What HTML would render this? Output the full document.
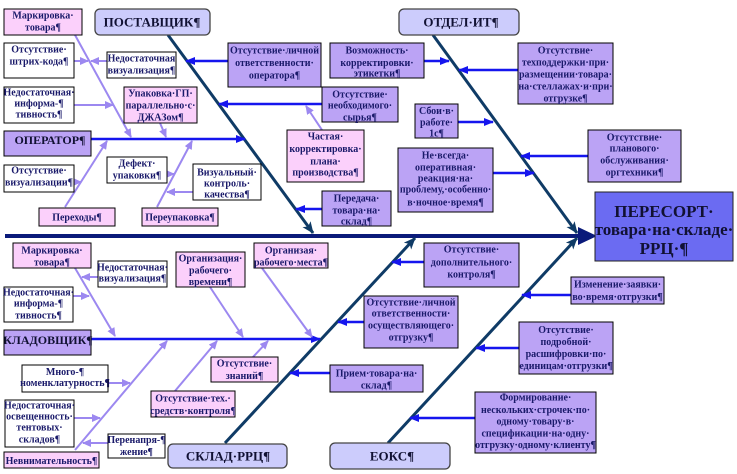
<!DOCTYPE html>
<html><head><meta charset="utf-8"><style>
html,body{margin:0;padding:0;background:#fff;}
svg{display:block;}
.t{font-family:"Liberation Serif","Noto Serif CJK SC",serif;font-weight:bold;font-size:10px;fill:#1a1a6a;text-anchor:middle;}
.h{font-family:"Liberation Serif","Noto Serif CJK SC",serif;font-weight:bold;fill:#111133;text-anchor:middle;}
.pk{fill:#fbd0fb;stroke:#000;stroke-width:1;}
.pu{fill:#bba3f5;stroke:#000;stroke-width:1;}
.wh{fill:#fff;stroke:#000;stroke-width:1;}
.hd{fill:#ccccfc;stroke:#444;stroke-width:1.3;}
.bl{stroke:#1515ee;stroke-width:2.5;fill:none;}
.lp{stroke:#9c88f0;stroke-width:2;fill:none;}
.dg{stroke:#0f3b66;stroke-width:3;fill:none;}
</style></head><body>
<svg width="737" height="474" viewBox="0 0 737 474" xmlns="http://www.w3.org/2000/svg">
<defs>
<marker id="ab" markerWidth="10" markerHeight="8" refX="9" refY="4" orient="auto" markerUnits="userSpaceOnUse"><path d="M0,0 L10,4 L0,8 z" fill="#1515ee"/></marker>
<marker id="ap" markerWidth="9" markerHeight="8" refX="8" refY="4" orient="auto" markerUnits="userSpaceOnUse"><path d="M0,0 L9,4 L0,8 z" fill="#9c88f0"/></marker>
<marker id="ad" markerWidth="12" markerHeight="10" refX="11" refY="5" orient="auto" markerUnits="userSpaceOnUse"><path d="M0,0 L12,5 L0,10 L3,5 z" fill="#0f3b66"/></marker>
</defs>

<!-- main spine -->
<line x1="5" y1="236" x2="582" y2="236" stroke="#0a1a7a" stroke-width="4"/>
<polygon points="578,227 597,236 578,245" fill="#0a1a7a"/>

<!-- diagonals -->
<line class="dg" x1="168" y1="35" x2="313" y2="233" marker-end="url(#ad)"/>
<line class="dg" x1="433" y1="35" x2="577" y2="233" marker-end="url(#ad)"/>
<line class="dg" x1="225" y1="443" x2="415" y2="238" marker-end="url(#ad)"/>
<line class="dg" x1="388" y1="443" x2="577" y2="238" marker-end="url(#ad)"/>

<!-- operator / kladovshik lines -->
<line class="bl" x1="91" y1="139" x2="245" y2="139" stroke-width="3" marker-end="url(#ab)"/>
<line class="bl" x1="91" y1="339" x2="320" y2="339" stroke-width="3" marker-end="url(#ab)"/>

<!-- blue arrows -->
<line class="bl" x1="228" y1="61" x2="186" y2="61" marker-end="url(#ab)"/>
<line class="bl" x1="322" y1="104" x2="219" y2="104" marker-end="url(#ab)"/>
<line class="bl" x1="322" y1="209" x2="296" y2="209" marker-end="url(#ab)"/>
<line class="bl" x1="424" y1="61" x2="449" y2="61" marker-end="url(#ab)"/>
<line class="bl" x1="518" y1="70" x2="459" y2="70" marker-end="url(#ab)"/>
<line class="bl" x1="458" y1="122" x2="493" y2="122" marker-end="url(#ab)"/>
<line class="bl" x1="588" y1="156" x2="521" y2="156" marker-end="url(#ab)"/>
<line class="bl" x1="493" y1="173" x2="534" y2="173" marker-end="url(#ab)"/>
<line class="bl" x1="424" y1="262" x2="392" y2="262" marker-end="url(#ab)"/>
<line class="bl" x1="364" y1="322" x2="338" y2="322" marker-end="url(#ab)"/>
<line class="bl" x1="571" y1="295" x2="522" y2="295" marker-end="url(#ab)"/>
<line class="bl" x1="519" y1="348" x2="476" y2="348" marker-end="url(#ab)"/>
<line class="bl" x1="330" y1="373" x2="290" y2="373" marker-end="url(#ab)"/>
<line class="bl" x1="475" y1="418" x2="410" y2="418" marker-end="url(#ab)"/>

<!-- light purple lines top -->
<line class="lp" x1="75" y1="35" x2="131" y2="137" marker-end="url(#ap)"/>
<line class="lp" x1="107" y1="61" x2="91" y2="61" marker-end="url(#ap)"/>
<line class="lp" x1="74" y1="61" x2="88" y2="61" marker-end="url(#ap)"/>
<line class="lp" x1="74" y1="105" x2="113" y2="105" marker-end="url(#ap)"/>
<line class="lp" x1="160" y1="123" x2="166" y2="137" marker-end="url(#ap)"/>
<line class="lp" x1="65" y1="207" x2="107" y2="141" marker-end="url(#ap)"/>
<line class="lp" x1="74" y1="182" x2="81" y2="182" marker-end="url(#ap)"/>
<line class="lp" x1="157" y1="207" x2="192" y2="141" marker-end="url(#ap)"/>
<line class="lp" x1="167" y1="174" x2="174" y2="174" marker-end="url(#ap)"/>
<line class="lp" x1="193" y1="192" x2="167" y2="192" marker-end="url(#ap)"/>
<line class="lp" x1="322" y1="130" x2="306" y2="106" marker-end="url(#ap)"/>

<!-- light purple lines bottom -->
<line class="lp" x1="75" y1="268" x2="115" y2="336" marker-end="url(#ap)"/>
<line class="lp" x1="98" y1="277" x2="82" y2="277" marker-end="url(#ap)"/>
<line class="lp" x1="73" y1="296" x2="89" y2="296" marker-end="url(#ap)"/>
<line class="lp" x1="210" y1="287" x2="243" y2="337" marker-end="url(#ap)"/>
<line class="lp" x1="262" y1="268" x2="312" y2="337" marker-end="url(#ap)"/>
<line class="lp" x1="75" y1="450" x2="167" y2="341" marker-end="url(#ap)"/>
<line class="lp" x1="108" y1="383" x2="130" y2="383" marker-end="url(#ap)"/>
<line class="lp" x1="74" y1="418" x2="100" y2="418" marker-end="url(#ap)"/>
<line class="lp" x1="108" y1="443" x2="83" y2="443" marker-end="url(#ap)"/>
<line class="lp" x1="175" y1="391" x2="217" y2="341" marker-end="url(#ap)"/>
<line class="lp" x1="253" y1="357" x2="268" y2="341" marker-end="url(#ap)"/>

<!-- ===== TOP BOXES ===== -->
<rect class="pk" x="4" y="9" width="78" height="26"/>
<text class="t" x="43" y="18.5">Маркировка·</text><text class="t" x="43" y="30.5">товара¶</text>

<rect class="hd" x="95" y="9" width="115" height="26" rx="5"/>
<text class="h" x="152" y="26.5" font-size="13">ПОСТАВЩИК¶</text>

<rect class="wh" x="4" y="43" width="70" height="35"/>
<text class="t" x="39" y="52.5">Отсутствие·</text><text class="t" x="39" y="64.5">штрих-кода¶</text>

<rect class="wh" x="107" y="52" width="69" height="26"/>
<text class="t" x="141.5" y="61.5">Недостаточная</text><text class="t" x="141.5" y="73.5">визуализация¶</text>

<rect class="wh" x="4" y="87" width="70" height="36"/>
<text class="t" x="39" y="95.5">Недостаточная·</text><text class="t" x="39" y="106.5">информа-¶</text><text class="t" x="39" y="117.5">тивность¶</text>

<rect class="pk" x="124" y="87" width="73" height="36"/>
<text class="t" x="160.5" y="96.5">Упаковка·ГП·</text><text class="t" x="160.5" y="108.5">параллельно·с·</text><text class="t" x="160.5" y="120.5">ДЖАЗом¶</text>

<rect class="pu" x="4" y="131" width="87" height="25"/>
<text class="h" x="50" y="144" font-size="12">ОПЕРАТОР¶</text>

<rect class="wh" x="4" y="165" width="70" height="27"/>
<text class="t" x="39" y="173.5">Отсутствие·</text><text class="t" x="39" y="185.5">визуализации¶</text>

<rect class="wh" x="107" y="157" width="60" height="26"/>
<text class="t" x="137" y="166.5">Дефект·</text><text class="t" x="137" y="178.5">упаковки¶</text>

<rect class="wh" x="193" y="164" width="68" height="36"/>
<text class="t" x="227" y="175.5">Визуальный·</text><text class="t" x="227" y="186.5">контроль·</text><text class="t" x="227" y="197.5">качества¶</text>

<rect class="pk" x="39" y="208" width="76" height="18"/>
<text class="t" x="77" y="220.5">Переходы¶</text>

<rect class="pk" x="142" y="208" width="76" height="18"/>
<text class="t" x="180" y="220.5">Переупаковка¶</text>

<rect class="pu" x="228" y="43" width="93" height="44"/>
<text class="t" x="274.5" y="53.5">Отсутствие·личной</text><text class="t" x="274.5" y="66">ответственности·</text><text class="t" x="274.5" y="78.5">оператора¶</text>

<rect class="pu" x="322" y="87" width="76" height="35"/>
<text class="t" x="360" y="97.5">Отсутствие·</text><text class="t" x="360" y="108.5">необходимого·</text><text class="t" x="360" y="120.5">сырья¶</text>

<rect class="pk" x="287" y="130" width="77" height="52"/>
<text class="t" x="325.5" y="139.5">Частая·</text><text class="t" x="325.5" y="152">корректировка·</text><text class="t" x="325.5" y="164.5">плана·</text><text class="t" x="325.5" y="175.5">производства¶</text>

<rect class="pu" x="322" y="191" width="69" height="35"/>
<text class="t" x="356.5" y="201.5">Передача·</text><text class="t" x="356.5" y="213.5">товара·на·</text><text class="t" x="356.5" y="224.5">склад¶</text>

<rect class="pu" x="330" y="43" width="94" height="35"/>
<text class="t" x="377" y="53.5">Возможность·</text><text class="t" x="377" y="66">корректировки·</text><text class="t" x="377" y="76.5">этикетки¶</text>

<rect class="hd" x="399" y="9" width="120" height="26" rx="5"/>
<text class="h" x="461" y="26.5" font-size="13">ОТДЕЛ·ИТ¶</text>

<rect class="pu" x="518" y="43" width="95" height="61"/>
<text class="t" x="565.5" y="53.5">Отсутствие·</text><text class="t" x="565.5" y="65.5">техподдержки·при·</text><text class="t" x="565.5" y="77.5">размещении·товара·</text><text class="t" x="565.5" y="89.5">на·стеллажах·и·при·</text><text class="t" x="565.5" y="101.5">отгрузке¶</text>

<rect class="pu" x="415" y="104" width="43" height="34"/>
<text class="t" x="436.5" y="114">Сбои·в·</text><text class="t" x="436.5" y="125.5">работе·</text><text class="t" x="436.5" y="136.5">1с¶</text>

<rect class="pu" x="588" y="130" width="93" height="52"/>
<text class="t" x="634.5" y="140.5">Отсутствие·</text><text class="t" x="634.5" y="151.5">планового·</text><text class="t" x="634.5" y="163.5">обслуживания·</text><text class="t" x="634.5" y="175.5">оргтехники¶</text>

<rect class="pu" x="398" y="148" width="95" height="64"/>
<text class="t" x="445.5" y="158.5">Не·всегда·</text><text class="t" x="445.5" y="170.5">оперативная·</text><text class="t" x="445.5" y="181.5">реакция·на·</text><text class="t" x="445.5" y="192.5">проблему,·особенно·</text><text class="t" x="445.5" y="205.5">в·ночное·время¶</text>

<rect x="595" y="192" width="138" height="69" fill="#6b6bf2" stroke="#222" stroke-width="1"/>
<text class="h" x="664" y="217" font-size="17">ПЕРЕСОРТ·</text><text class="h" x="664" y="235" font-size="17">товара·на·складе·</text><text class="h" x="664" y="254" font-size="17">РРЦ·¶</text>

<!-- ===== BOTTOM BOXES ===== -->
<rect class="pk" x="13" y="243" width="78" height="25"/>
<text class="t" x="52" y="253.5">Маркировка·</text><text class="t" x="52" y="265.5">товара¶</text>

<rect class="wh" x="98" y="261" width="69" height="26"/>
<text class="t" x="132.5" y="270.5">Недостаточная·</text><text class="t" x="132.5" y="281.5">визуализация¶</text>

<rect class="pk" x="176" y="252" width="69" height="35"/>
<text class="t" x="210.5" y="261.5">Организация·</text><text class="t" x="210.5" y="273.5">рабочего·</text><text class="t" x="210.5" y="285">времени¶</text>

<rect class="pk" x="254" y="243" width="74" height="25"/>
<text class="t" x="291" y="253.5">Организая·</text><text class="t" x="291" y="265.5">рабочего·места¶</text>

<rect class="wh" x="4" y="287" width="69" height="35"/>
<text class="t" x="38.5" y="295.5">Недостаточная·</text><text class="t" x="38.5" y="306.5">информа-¶</text><text class="t" x="38.5" y="318.5">тивность¶</text>

<rect class="pu" x="4" y="330" width="87" height="25"/>
<text class="h" x="48" y="344" font-size="12">КЛАДОВЩИК¶</text>

<rect class="wh" x="22" y="365" width="86" height="27"/>
<text class="t" x="65" y="375">Много-¶</text><text class="t" x="65" y="386">номенклатурность¶</text>

<rect class="wh" x="5" y="400" width="69" height="47"/>
<text class="t" x="39.5" y="408.5">Недостаточная·</text><text class="t" x="39.5" y="419.5">освещенность·</text><text class="t" x="39.5" y="430.5">тентовых·</text><text class="t" x="39.5" y="442.5">складов¶</text>

<rect class="wh" x="108" y="434" width="57" height="24"/>
<text class="t" x="136.5" y="443">Перенапря-¶</text><text class="t" x="136.5" y="455">жение¶</text>

<rect class="pk" x="4" y="452" width="95" height="16"/>
<text class="t" x="51.5" y="464">Невнимательность¶</text>

<rect class="pk" x="151" y="391" width="84" height="26"/>
<text class="t" x="193" y="401.5">Отсутствие·тех.·</text><text class="t" x="193" y="414">средств·контроля¶</text>

<rect class="pk" x="211" y="357" width="67" height="25"/>
<text class="t" x="244.5" y="366.5">Отсутствие·</text><text class="t" x="244.5" y="379">знаний¶</text>

<rect class="hd" x="168" y="444" width="119" height="24" rx="5"/>
<text class="h" x="228" y="460.5" font-size="13">СКЛАД·РРЦ¶</text>

<rect class="pu" x="424" y="243" width="95" height="44"/>
<text class="t" x="471.5" y="252.5">Отсутствие·</text><text class="t" x="471.5" y="265.5">дополнительного·</text><text class="t" x="471.5" y="277.5">контроля¶</text>

<rect class="pu" x="364" y="296" width="94" height="52"/>
<text class="t" x="411" y="305.5">Отсутствие·личной</text><text class="t" x="411" y="316.5">ответственности·</text><text class="t" x="411" y="328.5">осуществляющего·</text><text class="t" x="411" y="340.5">отгрузку¶</text>

<rect class="pu" x="571" y="277" width="93" height="27"/>
<text class="t" x="617.5" y="287.5">Изменение·заявки·</text><text class="t" x="617.5" y="300">во·время·отгрузки¶</text>

<rect class="pu" x="519" y="322" width="94" height="52"/>
<text class="t" x="566" y="333">Отсутствие·</text><text class="t" x="566" y="345">подробной·</text><text class="t" x="566" y="357">расшифровки·по·</text><text class="t" x="566" y="369">единицам·отгрузки¶</text>

<rect class="pu" x="330" y="365" width="93" height="27"/>
<text class="t" x="376.5" y="376.5">Прием·товара·на·</text><text class="t" x="376.5" y="388.5">склад¶</text>

<rect class="pu" x="475" y="392" width="121" height="61"/>
<text class="t" x="535.5" y="400.5">Формирование·</text><text class="t" x="535.5" y="413">нескольких·строчек·по·</text><text class="t" x="535.5" y="424.5">одному·товару·в·</text><text class="t" x="535.5" y="436.5">спецификации·на·одну·</text><text class="t" x="535.5" y="448">отгрузку·одному·клиенту¶</text>

<rect class="hd" x="330" y="443" width="120" height="26" rx="5"/>
<text class="h" x="392" y="460.5" font-size="13">ЕОКС¶</text>
</svg>
</body></html>
